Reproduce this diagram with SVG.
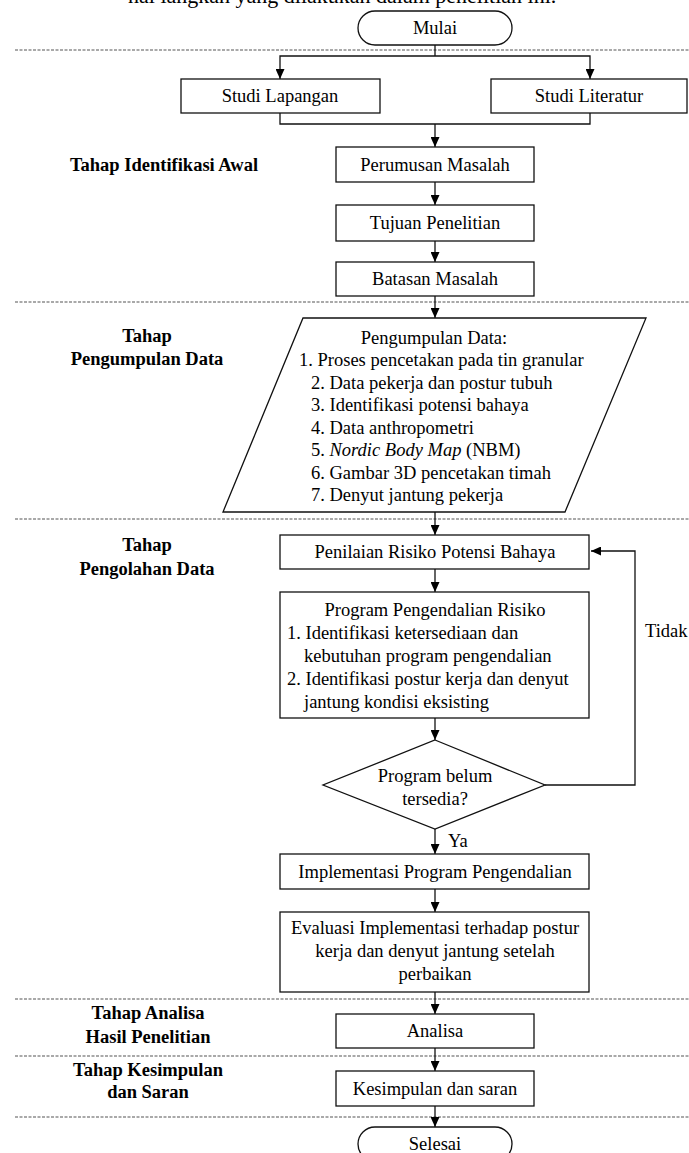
<svg xmlns="http://www.w3.org/2000/svg" width="689" height="1153" viewBox="0 0 689 1153">
<style>
text{font-family:"Liberation Serif","Times New Roman",serif;font-size:18.5px;fill:#000}
.c{text-anchor:middle}
.b{font-weight:bold}
.box{fill:#fff;stroke:#111;stroke-width:1.3}
.sep{stroke:#555;stroke-width:1.2;stroke-dasharray:3 1.5;fill:none}
.ln{stroke:#111;stroke-width:1.3;fill:none}
</style>
<defs>
<marker id="ah" markerUnits="userSpaceOnUse" markerWidth="10" markerHeight="9" refX="10" refY="4.5" orient="auto">
<path d="M0,0 L10,4.5 L0,9 z" fill="#000"/>
</marker>
</defs>
<rect width="689" height="1153" fill="#fff"/>
<text x="128" y="2.5" style="font-size:22px">nai langkah yang dilakukan dalam penelitian ini.</text>
<g id="separators">
<line class="sep" x1="15" y1="50" x2="689" y2="50"/>
<line class="sep" x1="15" y1="302" x2="689" y2="302"/>
<line class="sep" x1="15" y1="519" x2="689" y2="519"/>
<line class="sep" x1="15" y1="999" x2="689" y2="999"/>
<line class="sep" x1="15" y1="1056" x2="689" y2="1056"/>
<line class="sep" x1="15" y1="1117" x2="689" y2="1117"/>
</g>
<g id="stage-labels">
<text class="c b" x="164" y="171">Tahap Identifikasi Awal</text>
<text class="c b" x="147" y="342">Tahap</text>
<text class="c b" x="147" y="365">Pengumpulan Data</text>
<text class="c b" x="147" y="551">Tahap</text>
<text class="c b" x="147" y="575">Pengolahan Data</text>
<text class="c b" x="148" y="1019">Tahap Analisa</text>
<text class="c b" x="148" y="1043">Hasil Penelitian</text>
<text class="c b" x="148" y="1076">Tahap Kesimpulan</text>
<text class="c b" x="148" y="1098">dan Saran</text>
</g>
<g id="connectors">
<polyline class="ln" points="435,45 435,56"/>
<polyline class="ln" points="435,56 280,56 280,79" marker-end="url(#ah)"/>
<polyline class="ln" points="435,56 590,56 590,79" marker-end="url(#ah)"/>
<polyline class="ln" points="280,113 280,124 590,124 590,113"/>
<line class="ln" x1="435" y1="124" x2="435" y2="147" marker-end="url(#ah)"/>
<line class="ln" x1="435" y1="182" x2="435" y2="205" marker-end="url(#ah)"/>
<line class="ln" x1="435" y1="241" x2="435" y2="262" marker-end="url(#ah)"/>
<line class="ln" x1="435" y1="296" x2="435" y2="318" marker-end="url(#ah)"/>
<line class="ln" x1="435" y1="512" x2="435" y2="535" marker-end="url(#ah)"/>
<line class="ln" x1="435" y1="569" x2="435" y2="592" marker-end="url(#ah)"/>
<line class="ln" x1="435" y1="718" x2="435" y2="740" marker-end="url(#ah)"/>
<line class="ln" x1="435" y1="829" x2="435" y2="854" marker-end="url(#ah)"/>
<line class="ln" x1="435" y1="889" x2="435" y2="912" marker-end="url(#ah)"/>
<line class="ln" x1="435" y1="992" x2="435" y2="1014" marker-end="url(#ah)"/>
<line class="ln" x1="435" y1="1048" x2="435" y2="1071" marker-end="url(#ah)"/>
<line class="ln" x1="435" y1="1106" x2="435" y2="1127" marker-end="url(#ah)"/>
<polyline class="ln" points="545,785 635,785 635,551 591,551" marker-end="url(#ah)"/>
<text x="448" y="847">Ya</text>
<text x="645" y="637">Tidak</text>
</g>
<g id="mulai">
<rect class="box" x="358" y="11" width="154" height="34" rx="17"/>
<text class="c" x="435" y="34">Mulai</text>
</g>
<g id="studi-lapangan">
<rect class="box" x="181" y="79" width="199" height="34"/>
<text class="c" x="280" y="102">Studi Lapangan</text>
</g>
<g id="studi-literatur">
<rect class="box" x="491" y="79" width="196" height="34"/>
<text class="c" x="589" y="102">Studi Literatur</text>
</g>
<g id="perumusan">
<rect class="box" x="336" y="147" width="198" height="35"/>
<text class="c" x="435" y="171">Perumusan Masalah</text>
</g>
<g id="tujuan">
<rect class="box" x="336" y="205" width="198" height="36"/>
<text class="c" x="435" y="229">Tujuan Penelitian</text>
</g>
<g id="batasan">
<rect class="box" x="336" y="262" width="198" height="34"/>
<text class="c" x="435" y="285">Batasan Masalah</text>
</g>
<g id="pengumpulan">
<polygon class="box" points="303,318 646,318 565,512 223,512"/>
<text class="c" x="434" y="344">Pengumpulan Data:</text>
<text x="299" y="366">1. Proses pencetakan pada tin granular</text>
<text x="311" y="388.5">2. Data pekerja dan postur tubuh</text>
<text x="311" y="411">3. Identifikasi potensi bahaya</text>
<text x="311" y="433.5">4. Data anthropometri</text>
<text x="311" y="456">5. <tspan font-style="italic">Nordic Body Map</tspan> (NBM)</text>
<text x="311" y="478.5">6. Gambar 3D pencetakan timah</text>
<text x="311" y="501">7. Denyut jantung pekerja</text>
</g>
<g id="penilaian">
<rect class="box" x="280" y="535" width="309" height="34"/>
<text class="c" x="435" y="558">Penilaian Risiko Potensi Bahaya</text>
</g>
<g id="program">
<rect class="box" x="280" y="592" width="309" height="126"/>
<text class="c" x="435" y="616">Program Pengendalian Risiko</text>
<text x="287" y="639">1. Identifikasi ketersediaan dan</text>
<text x="304" y="662">kebutuhan program pengendalian</text>
<text x="287" y="685">2. Identifikasi postur kerja dan denyut</text>
<text x="304" y="708">jantung kondisi eksisting</text>
</g>
<g id="keputusan">
<polygon class="box" points="435,740 545,785 435,829 323,785"/>
<text class="c" x="435" y="782">Program belum</text>
<text class="c" x="435" y="805">tersedia?</text>
</g>
<g id="implementasi">
<rect class="box" x="280" y="854" width="309" height="35"/>
<text class="c" x="435" y="878">Implementasi Program Pengendalian</text>
</g>
<g id="evaluasi">
<rect class="box" x="280" y="912" width="309" height="80"/>
<text class="c" x="435" y="934">Evaluasi Implementasi terhadap postur</text>
<text class="c" x="435" y="957">kerja dan denyut jantung setelah</text>
<text class="c" x="435" y="980">perbaikan</text>
</g>
<g id="analisa">
<rect class="box" x="336" y="1014" width="198" height="34"/>
<text class="c" x="435" y="1037">Analisa</text>
</g>
<g id="kesimpulan">
<rect class="box" x="336" y="1071" width="198" height="35"/>
<text class="c" x="435" y="1095">Kesimpulan dan saran</text>
</g>
<g id="selesai">
<rect class="box" x="358" y="1127" width="154" height="34" rx="17"/>
<text class="c" x="435" y="1150">Selesai</text>
</g>
</svg>
